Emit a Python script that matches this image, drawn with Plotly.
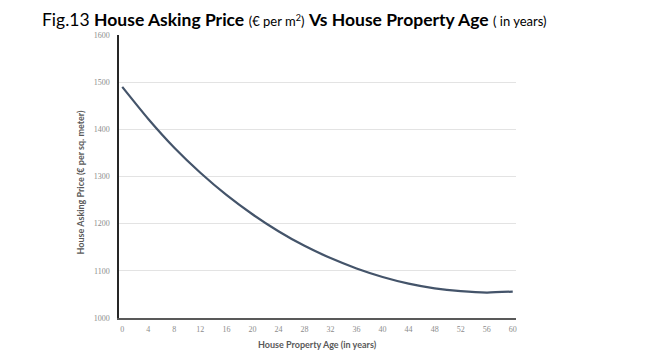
import plotly.graph_objects as go

ages = [0, 4, 8, 12, 16, 20, 24, 28, 32, 36, 40, 44, 48, 52, 56, 60]
prices = [1490, 1422, 1361, 1308, 1261, 1220, 1184, 1153, 1127, 1105, 1087, 1073, 1063, 1057, 1054, 1056]
x_ticks = list(range(0, 61, 4))
y_ticks = [1000, 1100, 1200, 1300, 1400, 1500, 1600]

fig = go.Figure()
fig.add_trace(go.Scatter(x=ages, y=prices, mode="lines",
                         line=dict(color="#44546a", width=2.2, shape="spline", smoothing=0.6),
                         hoverinfo="skip", showlegend=False))

tick_font = dict(family="Liberation Serif", size=8, color="#8c8c8c")
fig.update_layout(
    width=639, height=351,
    margin=dict(l=111, r=131, t=27, b=41),
    paper_bgcolor="white", plot_bgcolor="white",
    xaxis=dict(range=[-0.5, 60.5], tickmode="array", tickvals=x_ticks,
               ticktext=[str(v) for v in x_ticks], showgrid=False, zeroline=False,
               showline=True, linecolor="#595959", linewidth=1.5,
               ticks="", tickfont=tick_font, ticklabelstandoff=3),
    yaxis=dict(range=[1000, 1600], tickmode="array", tickvals=y_ticks,
               ticktext=[str(v) for v in y_ticks], showgrid=True, gridcolor="#e3e3e3",
               gridwidth=1, zeroline=False, showline=True, linecolor="#262626",
               linewidth=1.5, ticks="", tickfont=tick_font, ticklabelstandoff=6),
    annotations=[
        dict(text="Fig.13 <b>House Asking Price</b> <span style='font-size:13px'>(€ per m<sup>2</sup>)</span> "
                  "<b>Vs House Property Age</b> <span style='font-size:13px'>( in years)</span>",
             xref="paper", yref="paper", x=-0.198, y=1.0, xanchor="left", yanchor="bottom",
             yshift=3, showarrow=False, font=dict(family="Lato", size=17.5, color="black")),
        dict(text="<b>House Property Age (in years)</b>", xref="paper", yref="paper",
             x=0.5, y=0, yanchor="top", yshift=-19, showarrow=False,
             font=dict(family="Lato", size=9, color="#595959")),
        dict(text="<b>House Asking Price (€ per sq. meter)</b>", xref="paper", yref="paper",
             x=0, y=0.5, xanchor="center", yshift=-6, xshift=-39, textangle=-90, showarrow=False,
             font=dict(family="Lato", size=9, color="#595959")),
    ],
)
fig.write_html("out.html")
